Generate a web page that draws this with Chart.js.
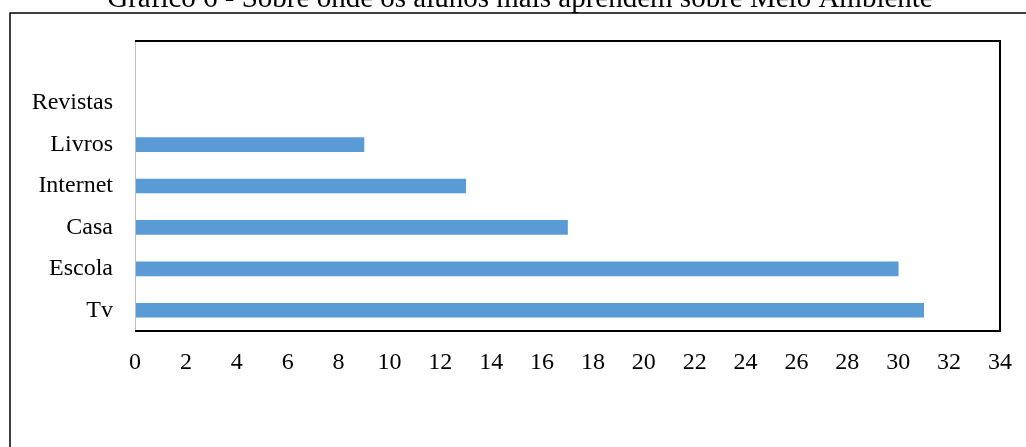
<!DOCTYPE html>
<html>
<head>
<meta charset="utf-8">
<script src="https://cdn.jsdelivr.net/npm/chart.js@4"></script>
<style>
  html, body { margin: 0; padding: 0; background: #fff; }
  #wrap { width: 1026px; height: 447px; position: relative; }
</style>
</head>
<body>
<div id="wrap"><canvas id="chart"></canvas></div>
<script>
const title = 'Gráfico 6 - Sobre onde os alunos mais aprendem sobre Meio Ambiente';
// top row is an empty slot, as in the original sheet
const categories = ['', 'Revistas', 'Livros', 'Internet', 'Casa', 'Escola', 'Tv'];
const values = [null, 0, 9, 13, 17, 30, 31];
const xMin = 0, xMax = 34, xStep = 2;

const serif = '"Liberation Serif", "Times New Roman", serif';

// outer frame, clipped title and plot border
const framePlugin = {
  id: 'frame',
  afterDraw(chart) {
    const c = chart.ctx, a = chart.chartArea;
    c.save();
    c.fillStyle = '#000';
    c.font = '29px ' + serif;
    c.textAlign = 'center';
    c.textBaseline = 'alphabetic';
    c.fillText(title, 520, 7);

    c.strokeStyle = '#000';
    c.lineWidth = 1.5;
    c.beginPath();
    c.moveTo(10, 447);
    c.lineTo(10, 13);
    c.lineTo(1026, 13);
    c.stroke();

    c.lineWidth = 2;
    c.beginPath();
    c.moveTo(a.left, a.top);
    c.lineTo(a.right, a.top);
    c.lineTo(a.right, a.bottom);
    c.lineTo(a.left, a.bottom);
    c.stroke();

    c.strokeStyle = '#bfbfbf';
    c.lineWidth = 1;
    c.beginPath();
    c.moveTo(a.left + 0.5, a.top + 1);
    c.lineTo(a.left + 0.5, a.bottom - 1);
    c.stroke();
    c.restore();
  }
};

new Chart(document.getElementById('chart'), {
  type: 'bar',
  data: {
    labels: categories,
    datasets: [{
      data: values,
      backgroundColor: '#5b9bd5',
      barThickness: 14
    }]
  },
  options: {
    indexAxis: 'y',
    responsive: true,
    maintainAspectRatio: false,
    animation: false,
    layout: { padding: { top: 41, right: 26, left: 0, bottom: 0 } },
    plugins: { legend: { display: false }, tooltip: { enabled: false } },
    scales: {
      x: {
        min: xMin, max: xMax,
        grid: { display: false, drawTicks: false },
        border: { display: false },
        ticks: { stepSize: xStep, color: '#000', padding: 17, font: { family: serif, size: 24 } },
        afterFit(s) { s.height = 116; s.paddingLeft = 0; s.paddingRight = 0; }
      },
      y: {
        grid: { display: false, drawTicks: false },
        border: { display: false },
        ticks: { color: '#000', padding: 22, font: { family: serif, size: 24 } },
        afterFit(s) { s.width = 135; }
      }
    }
  },
  plugins: [framePlugin]
});
</script>
</body>
</html>
